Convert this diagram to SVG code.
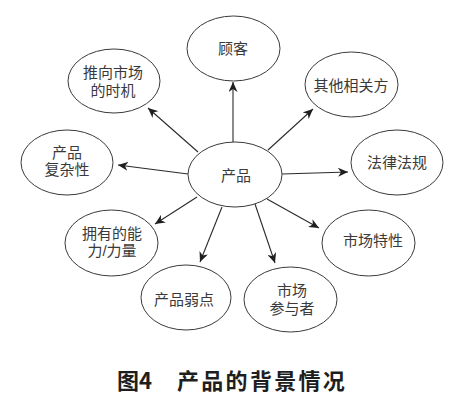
<svg xmlns="http://www.w3.org/2000/svg" width="461" height="406" viewBox="0 0 461 406">
<style>
.n ellipse{fill:#fff;stroke:#3a3a3a;stroke-width:1}
.n text{font-family:"Liberation Sans","Noto Sans CJK SC",sans-serif;font-size:15px;fill:#3a3a3a;text-anchor:middle}
.c line{stroke:#2a2a2a;stroke-width:1.1;marker-end:url(#ah)}
.cap{font-family:"Noto Sans CJK SC","Noto Sans",sans-serif;font-size:22px;font-weight:bold;fill:#1e1e1e}
</style>
<defs>
<marker id="ah" markerUnits="userSpaceOnUse" markerWidth="11" markerHeight="9" refX="10" refY="4.5" orient="auto">
<path d="M0,0 L10,4.5 L0,9 L3,4.5 Z" fill="#1e1e1e"/>
</marker>
</defs>
<rect width="461" height="406" fill="#fff"/>
<g class="c">
<line x1="233" y1="142" x2="233" y2="82"/>
<line x1="198" y1="152" x2="148" y2="108"/>
<line x1="268" y1="150" x2="313" y2="109"/>
<line x1="282" y1="174" x2="348" y2="172"/>
<line x1="188" y1="174" x2="118" y2="165"/>
<line x1="197" y1="197" x2="155" y2="224"/>
<line x1="222" y1="207" x2="200" y2="262"/>
<line x1="255" y1="204" x2="275" y2="263"/>
<line x1="267" y1="199" x2="319" y2="228"/>
</g>
<g id="n-center" class="n"><ellipse cx="235" cy="174.5" rx="47" ry="32.5"/><text x="236" y="180.5">产品</text></g>
<g id="n-guke" class="n"><ellipse cx="233.5" cy="48.5" rx="46.5" ry="32.5"/><text x="233" y="53.5">顾客</text></g>
<g id="n-timing" class="n"><ellipse cx="114" cy="81" rx="46" ry="32"/><text x="113" y="77.5">推向市场<tspan x="113" dy="18">的时机</tspan></text></g>
<g id="n-other" class="n"><ellipse cx="351.5" cy="84.5" rx="46.5" ry="32.5"/><text x="351" y="90.5">其他相关方</text></g>
<g id="n-complex" class="n"><ellipse cx="67" cy="162.5" rx="46" ry="32.5"/><text x="67" y="157.5">产品<tspan x="67" dy="17">复杂性</tspan></text></g>
<g id="n-law" class="n"><ellipse cx="397" cy="162.5" rx="46" ry="32.5"/><text x="397" y="167.5">法律法规</text></g>
<g id="n-ability" class="n"><ellipse cx="111.5" cy="243" rx="46.5" ry="33"/><text x="112" y="238.5">拥有的能<tspan x="112" dy="17">力/力量</tspan></text></g>
<g id="n-market" class="n"><ellipse cx="368.5" cy="243" rx="46.5" ry="33"/><text x="373" y="245.5">市场特性</text></g>
<g id="n-weak" class="n"><ellipse cx="186" cy="297.5" rx="45" ry="32.5"/><text x="184" y="304.5">产品弱点</text></g>
<g id="n-players" class="n"><ellipse cx="290.5" cy="299.5" rx="46.5" ry="32.5"/><text x="292" y="295.5">市场<tspan x="292" dy="18">参与者</tspan></text></g>
<text class="cap" x="117" y="389">图4</text>
<text class="cap" x="177" y="389" letter-spacing="2.3">产品的背景情况</text>
</svg>
